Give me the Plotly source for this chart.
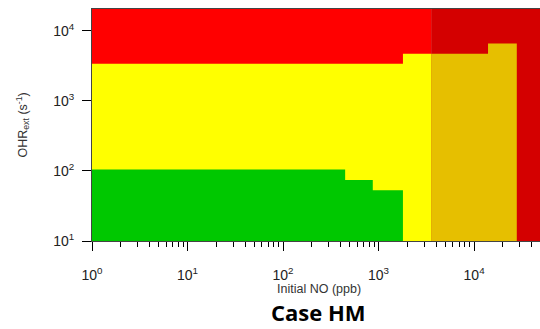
import plotly.graph_objects as go
import numpy as np

# Boundaries (x = initial NO in ppb, y = OHR_ext in s^-1)
x_min, x_max = 1.0, 49000.0
y_min, y_max = 10.0, 20500.0

green_x = [1.0, 447.0, 870.0, 1800.0]      # green step edges
green_y = [105.0, 74.0, 53.0]               # green top per step

red_x = [1.0, 1800.0, 3550.0]               # red/yellow boundary edges
red_y = [3400.0, 4700.0]                    # red bottom per step

orange_x = [3550.0, 14000.0, 28000.0]       # orange step edges
orange_y = [4700.0, 6600.0]                 # orange top per step

col_red = "#FF0000"
col_dark_red = "#D40000"
col_yellow = "#FFFF00"
col_green = "#00C800"
col_orange = "#E6BF00"


def step_poly(xe, ye, base):
    xs, ys = [xe[0]], [base]
    for i, yv in enumerate(ye):
        xs += [xe[i], xe[i + 1]]
        ys += [yv, yv]
    xs += [xe[-1], xe[0]]
    ys += [base, base]
    return xs, ys


def rect(x0, x1, y0, y1):
    return [x0, x1, x1, x0, x0], [y0, y0, y1, y1, y0]


fig = go.Figure()


def add(xs, ys, c):
    fig.add_trace(go.Scatter(x=xs, y=ys, fill="toself", fillcolor=c, mode="lines",
                             line=dict(width=0, color=c), hoverinfo="skip", showlegend=False))


xs, ys = rect(red_x[-1], x_max, y_min, y_max)
add(xs, ys, col_dark_red)
xs, ys = rect(x_min, red_x[-1], y_min, y_max)
add(xs, ys, col_red)
xs, ys = step_poly(red_x, red_y, y_min)
add(xs, ys, col_yellow)
xs, ys = step_poly(green_x, green_y, y_min)
add(xs, ys, col_green)
xs, ys = step_poly(orange_x, orange_y, y_min)
add(xs, ys, col_orange)

xticks = [1, 10, 100, 1000, 10000]
yticks = [10, 100, 1000, 10000]

def lab(v):
    return "10<sup>%d</sup>" % int(round(np.log10(v)))

fig.update_layout(
    width=540, height=329,
    margin=dict(l=92, r=0, t=9, b=88),
    paper_bgcolor="white", plot_bgcolor="white",
    font=dict(family="Liberation Sans, Arial, sans-serif", size=14, color="#222"),
    xaxis=dict(type="log", range=[np.log10(x_min), np.log10(x_max)],
               tickvals=xticks, ticktext=[lab(v) for v in xticks],
               ticks="outside", ticklen=9, tickcolor="black", tickwidth=1,
               showline=True, linecolor="#444", linewidth=1, mirror=True,
               showgrid=False, zeroline=False, ticklabelstandoff=12,
               minor=dict(ticks="outside", ticklen=5, tickcolor="black", dtick="D1", showgrid=False)),
    yaxis=dict(type="log", range=[np.log10(y_min), np.log10(y_max)],
               tickvals=yticks, ticktext=[lab(v) for v in yticks],
               ticks="outside", ticklen=9, tickcolor="black", tickwidth=1,
               showline=True, linecolor="#444", linewidth=1, mirror=True,
               showgrid=False, zeroline=False, ticklabelstandoff=5),
    annotations=[
        dict(text="Initial NO (ppb)", xref="paper", yref="paper", x=0.507, y=-0.205,
             xanchor="center", yanchor="middle", showarrow=False,
             font=dict(size=12.5, color="#333")),
        dict(text="<b>Case HM</b>", xref="paper", yref="paper", x=0.505, y=-0.305,
             xanchor="center", yanchor="middle", showarrow=False,
             font=dict(family="Open Sans, sans-serif", size=22, color="black")),
        dict(text="OHR<sub>ext</sub> (s<sup>-1</sup>)", xref="paper", yref="paper",
             x=-0.155, y=0.5, textangle=-90, xanchor="center", yanchor="middle",
             showarrow=False, font=dict(size=12.5, color="#333")),
    ],
)

fig.write_html("out.html")
